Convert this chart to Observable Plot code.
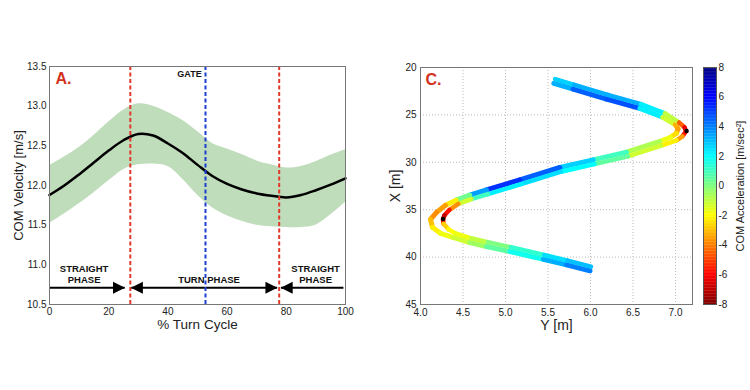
<!DOCTYPE html>
<html><head><meta charset="utf-8">
<script src="https://cdn.jsdelivr.net/npm/d3@7"></script>
<script src="https://cdn.jsdelivr.net/npm/@observablehq/plot@0.6"></script>
<style>
body{margin:0;background:#fff;}
#wrap{position:relative;width:750px;height:390px;overflow:hidden;background:#fff;font-family:"Liberation Sans",Arial,sans-serif;}
.pane{position:absolute;top:0;}
</style></head><body>
<div id="wrap">
  <div id="pa" class="pane" style="left:0;width:370px"></div>
  <div id="pc" class="pane" style="left:370px;width:325px"></div>
  <div id="cb" class="pane" style="left:695px;width:55px"></div>
</div>
<script>
// ---------- Panel A data ----------
const pctCycle = [0,5,10,15,20,25,30,35,40,45,50,55,60,65,70,75,80,85,90,95,100];
const velMean  = [11.88,12.00,12.14,12.29,12.44,12.57,12.65,12.63,12.53,12.41,12.26,12.12,12.02,11.95,11.90,11.87,11.85,11.88,11.94,12.01,12.09];
const velUpper = [12.25,12.36,12.48,12.63,12.80,12.95,13.03,13.00,12.92,12.82,12.68,12.53,12.46,12.39,12.31,12.26,12.22,12.24,12.30,12.38,12.45];
const velLower = [11.52,11.64,11.77,11.91,12.06,12.20,12.26,12.27,12.24,12.08,11.88,11.72,11.62,11.55,11.50,11.48,11.47,11.47,11.50,11.63,11.79];
const xTicksA = [0,20,40,60,80,100];
const yTicksA = [10.5,11.0,11.5,12.0,12.5,13.0,13.5];
const phaseBounds = [27.3, 77.6];
const gatePct = 52.7;
const arrowLevel = 10.71;
const arrowFrom = [0, 27.6, 78.2];
const arrowTo   = [25.4, 76.9, 99.3];
const headsRight = [25.5, 77.0];
const headsLeft  = [27.5, 78.1];
const phaseLabelText = ["STRAIGHT","PHASE","TURN PHASE","STRAIGHT","PHASE"];
const phaseLabelPct  = [11.7, 11.7, 53.9, 89.9, 89.9];
const phaseLabelVel  = [10.946, 10.806, 10.806, 10.946, 10.806];

// ---------- Panel C data (Y [m] horizontal, X [m] vertical) ----------
const laneA_Y = [5.584,5.811,6.204,6.595,6.874,7.042,7.106,7.124,7.082,7.012,6.832,6.440,6.047,5.655,5.184,4.793,4.598,4.445,4.341,4.282,4.265,4.271,4.329,4.412,4.596,4.793,5.065,5.456,5.732,6.006];
const laneA_X = [21.225,21.827,22.883,23.865,24.826,25.797,26.304,26.726,27.254,27.677,28.247,29.377,30.190,30.993,32.302,33.358,33.875,34.393,35.016,35.597,36.019,36.494,37.075,37.497,38.015,38.437,38.965,39.778,40.370,41.003];
const laneA_acc = [2.5,3,3.5,3,1.5,-3.5,-5.5,-7,-4.5,-2.5,-2,-0.5,1.5,2.5,2.5,2,0,-2.5,-5,-6.5,-7.5,-3.5,-2,-2,-1.5,-0.5,0.5,2,3,3];
const laneB_Y = [5.569,5.796,6.189,6.581,6.851,6.998,7.029,7.012,6.941,6.815,6.424,6.031,5.639,5.168,4.776,4.579,4.419,4.294,4.188,4.118,4.141,4.235,4.384,4.580,4.776,5.053,5.445,5.720,5.994];
const laneB_X = [21.668,22.270,23.326,24.308,25.248,26.030,26.463,26.938,27.360,27.804,28.933,29.747,30.549,31.858,32.914,33.453,33.991,34.540,35.280,36.019,36.864,37.497,37.930,38.458,38.880,39.409,40.222,40.813,41.447];
const laneB_acc = [2.5,4,5,4.5,0,-2.5,-4,-3,-2,-1.5,0,2,3.5,5.5,5,2,-1.5,-3,-4,-3.5,-2.5,-2,-1.5,-1,0,1,2.5,4,4];
const tipY = [7.13, 4.265];
const tipX = [26.7, 35.98];
const xTicksC = [4.0,4.5,5.0,5.5,6.0,6.5,7.0];
const yTicksC = [20,25,30,35,40,45];
const cbTicks = [-8,-6,-4,-2,0,2,4,6,8];

// ---------- helpers ----------
const FONT = '"Liberation Sans", Arial, sans-serif';
const baseStyle = {fontFamily: FONT, fontSize: "10px", background: "transparent", color: "#222", overflow: "visible"};
const clamp = v => Math.max(0, Math.min(1, v));
const jet = t => d3.rgb(255*clamp(1.5-Math.abs(4*t-3)), 255*clamp(1.5-Math.abs(4*t-2)), 255*clamp(1.5-Math.abs(4*t-1))).toString();
const colorOpt = {type: "linear", domain: [-8, 8], interpolate: t => jet(1 - t)};
const triRight = {draw(ctx){ ctx.moveTo(0,0); ctx.lineTo(-12,-6); ctx.lineTo(-12,6); ctx.closePath(); }};
const triLeft  = {draw(ctx){ ctx.moveTo(0,0); ctx.lineTo(12,-6); ctx.lineTo(12,6); ctx.closePath(); }};

// ---------- Panel A ----------
const band = pctCycle.map((p,i) => ({p, lo: velLower[i], mean: velMean[i], hi: velUpper[i]}));
const arrows = arrowFrom.map((f,i) => ({a: f, b: arrowTo[i]}));
const phaseLabels = phaseLabelText.map((t,i) => ({t, x: phaseLabelPct[i], y: phaseLabelVel[i]}));

const chartA = Plot.plot({
  width: 370, height: 390,
  marginLeft: 49, marginRight: 25, marginTop: 66, marginBottom: 86,
  style: baseStyle,
  x: {domain: [0,100], ticks: xTicksA, tickSize: 0, tickPadding: 3, label: null},
  y: {domain: [10.5,13.5], ticks: yTicksA, tickSize: 0, tickPadding: 3, tickFormat: d => d.toFixed(1), label: null},
  marks: [
    Plot.areaY(band, {x: "p", y1: "lo", y2: "hi", fill: "#bfdcbb", curve: "catmull-rom"}),
    Plot.line(band, {x: "p", y: "mean", stroke: "#000", strokeWidth: 2.5, curve: "catmull-rom"}),
    Plot.link(arrows, {x1: "a", x2: "b", y1: () => arrowLevel, y2: () => arrowLevel, stroke: "#000", strokeWidth: 2}),
    Plot.dot(headsRight, {x: d => d, y: () => arrowLevel, symbol: triRight, fill: "#000", stroke: "none", r: 5}),
    Plot.dot(headsLeft, {x: d => d, y: () => arrowLevel, symbol: triLeft, fill: "#000", stroke: "none", r: 5}),
    Plot.text(phaseLabels, {x: "x", y: "y", text: "t", fontSize: 9.5, fontWeight: "bold", fill: "#111"}),
    Plot.ruleX(phaseBounds, {stroke: "#e0382a", strokeWidth: 2, strokeDasharray: "4,2.5"}),
    Plot.ruleX([gatePct], {stroke: "#1d3fd0", strokeWidth: 2, strokeDasharray: "4,2.5"}),
    Plot.text(["GATE"], {x: () => gatePct - 1.3, y: () => 13.405, text: d => d, textAnchor: "end", fontSize: 9, fontWeight: "bold", fill: "#111"}),
    Plot.frame({stroke: "#777"}),
    Plot.text(["A."], {frameAnchor: "top-left", dx: 6, dy: 6, text: d => d, fill: "#d2321e", fontSize: 16, fontWeight: "bold"}),
    Plot.text(["% Turn Cycle"], {frameAnchor: "bottom", dy: 20, lineAnchor: "middle", textAnchor: "middle", text: d => d, fontSize: 13.5, fill: "#222"}),
    Plot.text(["COM Velocity [m/s]"], {frameAnchor: "left", dx: -31, rotate: -90, lineAnchor: "middle", textAnchor: "middle", text: d => d, fontSize: 13, fill: "#222"})
  ]
});
document.getElementById("pa").append(chartA);

// ---------- Panel C ----------
const mkSegs = (ys, xs, acc) => ys.slice(1).map((_, i) => ({ya: ys[i], xa: xs[i], yb: ys[i+1], xb: xs[i+1], a: (acc[i] + acc[i+1]) / 2}));
const segsA = mkSegs(laneA_Y, laneA_X, laneA_acc);
const segsB = mkSegs(laneB_Y, laneB_X, laneB_acc);
const tips = tipY.map((y,i) => ({y, x: tipX[i]}));

const chartC = Plot.plot({
  width: 325, height: 390,
  marginLeft: 50, marginRight: 3, marginTop: 67, marginBottom: 86,
  style: baseStyle,
  x: {domain: [4.0, 7.2], ticks: xTicksC, tickSize: 0, tickPadding: 4, tickFormat: d => d.toFixed(1), label: null},
  y: {domain: [20, 45], reverse: true, ticks: yTicksC, tickSize: 0, tickPadding: 4, label: null},
  color: colorOpt,
  marks: [
    Plot.ruleX(xTicksC.slice(1), {stroke: "#bbb", strokeWidth: 1, strokeDasharray: "1,2"}),
    Plot.ruleY(yTicksC.slice(1, -1), {stroke: "#bbb", strokeWidth: 1, strokeDasharray: "1,2"}),
    Plot.link(segsB, {x1: "ya", y1: "xa", x2: "yb", y2: "xb", stroke: "a", strokeWidth: 5, strokeLinecap: "round"}),
    Plot.link(segsA, {x1: "ya", y1: "xa", x2: "yb", y2: "xb", stroke: "a", strokeWidth: 4.5, strokeLinecap: "round"}),
    Plot.dot(tips, {x: "y", y: "x", r: 2.2, fill: "#000", stroke: "none"}),
    Plot.frame({stroke: "#777"}),
    Plot.text(["C."], {frameAnchor: "top-left", dx: 5, dy: 6, text: d => d, fill: "#d2321e", fontSize: 16, fontWeight: "bold"}),
    Plot.text(["Y [m]"], {frameAnchor: "bottom", dy: 21, lineAnchor: "middle", textAnchor: "middle", text: d => d, fontSize: 14, fill: "#222"}),
    Plot.text(["X [m]"], {frameAnchor: "left", dx: -25, rotate: -90, lineAnchor: "middle", textAnchor: "middle", text: d => d, fontSize: 14, fill: "#222"})
  ]
});
document.getElementById("pc").append(chartC);

// ---------- Colorbar ----------
const cbSteps = d3.range(-8, 8, 0.1);
const chartCB = Plot.plot({
  width: 55, height: 390,
  marginLeft: 8, marginRight: 34, marginTop: 67, marginBottom: 86,
  style: baseStyle,
  x: {domain: [0, 1], axis: null},
  y: {domain: [-8, 8], axis: "right", ticks: cbTicks, tickSize: 0, tickPadding: 2, tickFormat: d => String(d), label: null},
  color: colorOpt,
  marks: [
    Plot.rect(cbSteps, {x1: () => 0, x2: () => 1, y1: d => d, y2: d => Math.min(8, d + 0.12), fill: d => d + 0.05}),
    Plot.frame({stroke: "#555"}),
    Plot.text(["COM Acceleration [m/sec²]"], {frameAnchor: "right", dx: 24, rotate: -90, lineAnchor: "middle", textAnchor: "middle", text: d => d, fontSize: 11, fill: "#222"})
  ]
});
document.getElementById("cb").append(chartCB);
</script>
</body></html>
